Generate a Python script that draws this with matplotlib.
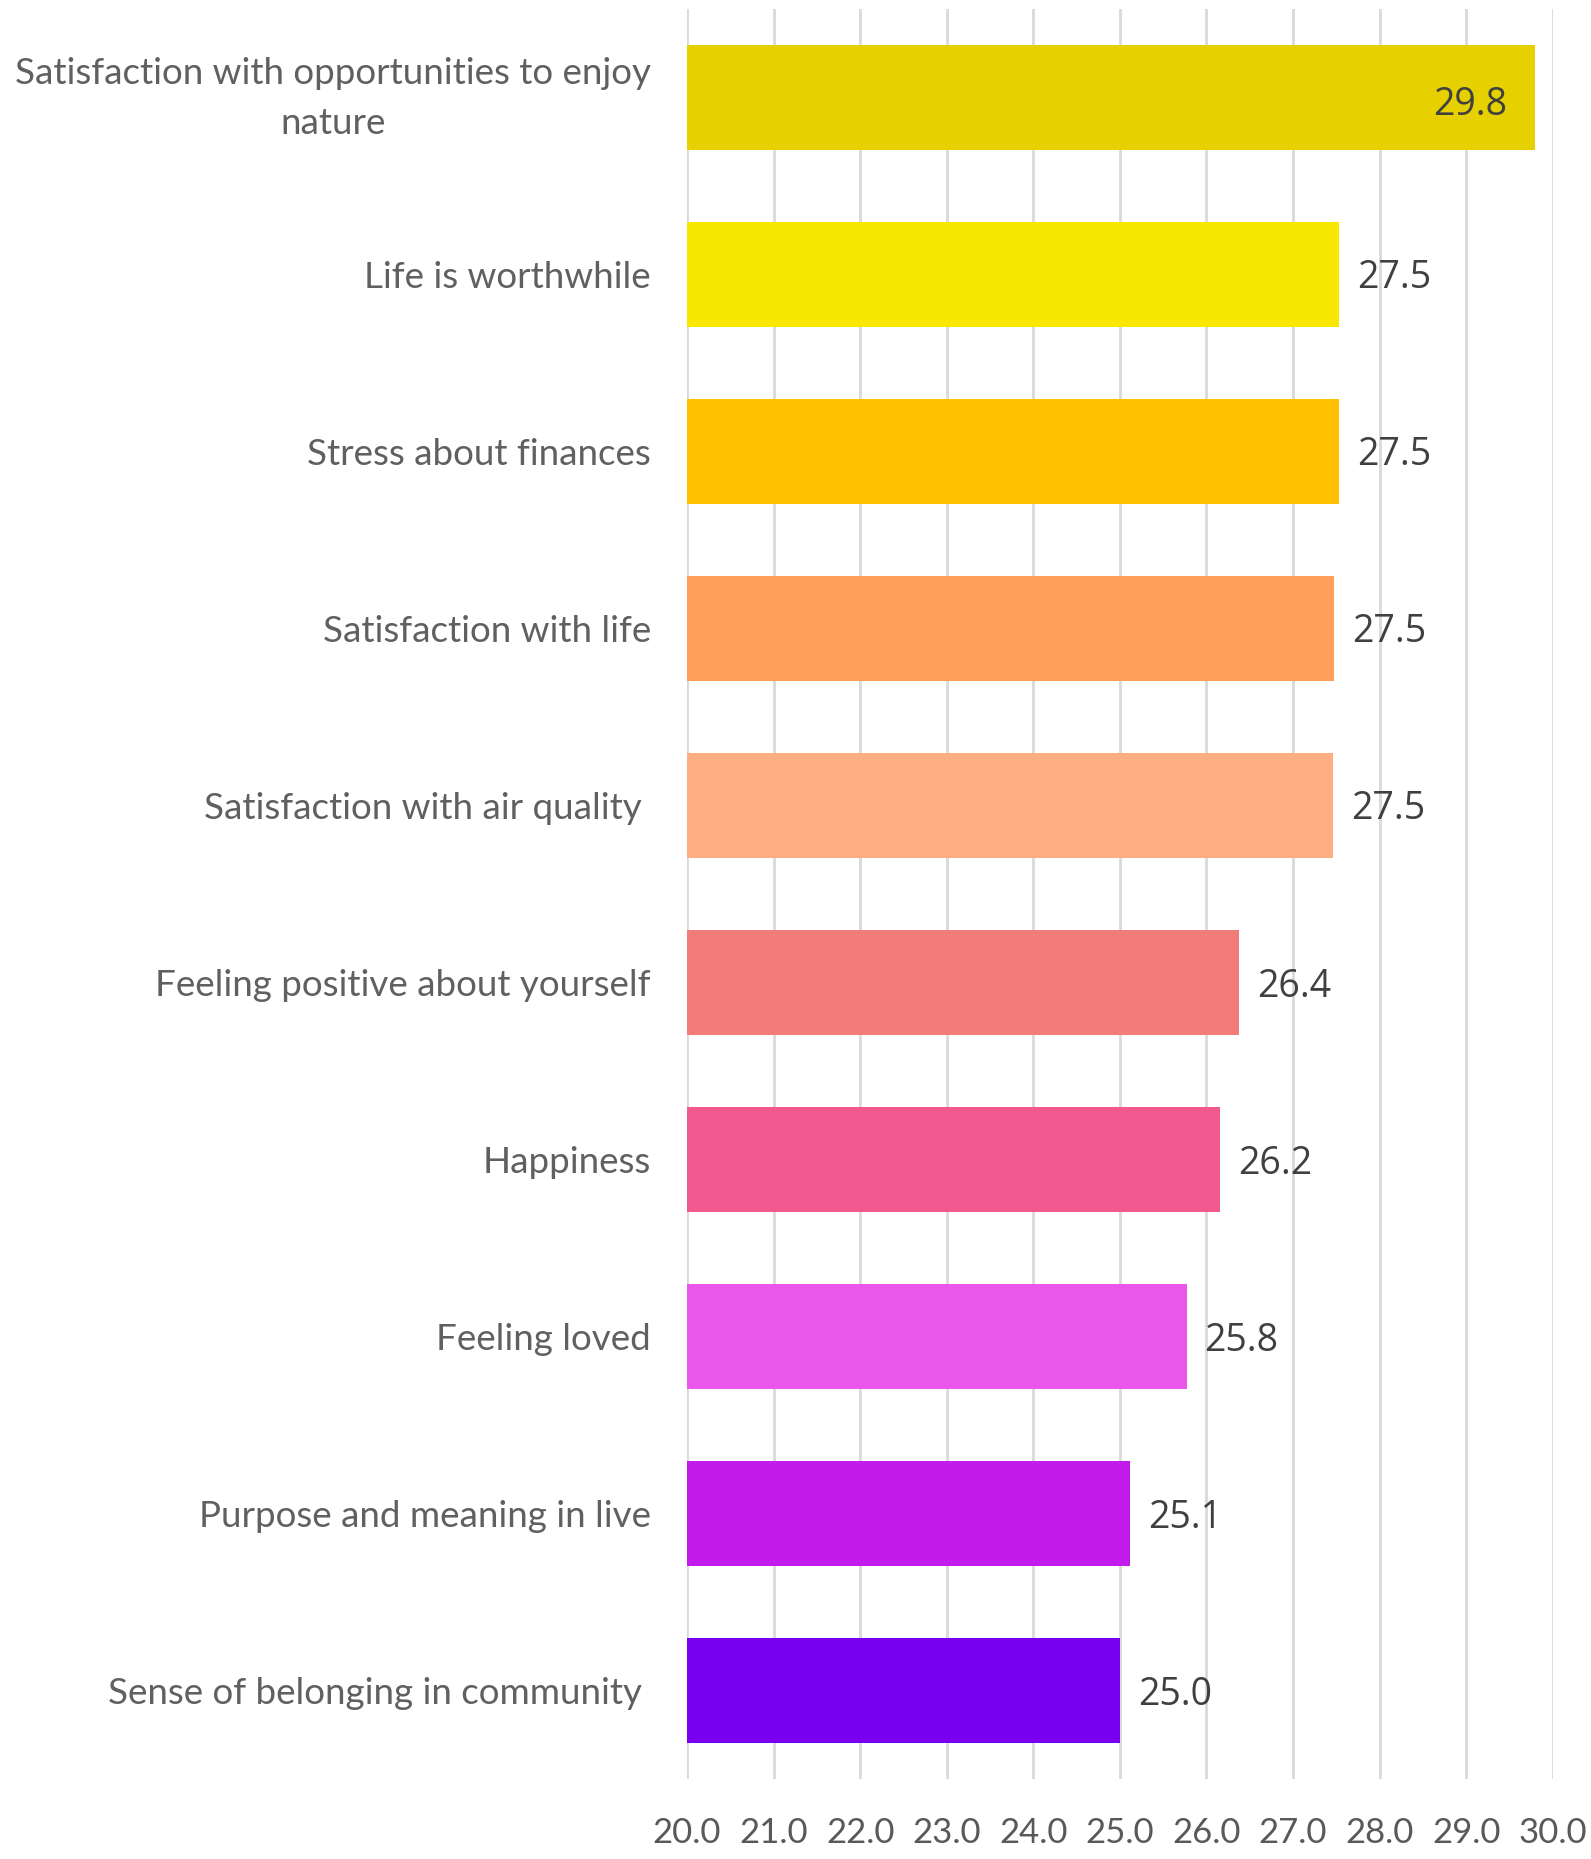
import matplotlib.pyplot as plt
from matplotlib.transforms import ScaledTranslation

labels = [
    "Satisfaction with opportunities to enjoy\nnature",
    "Life is worthwhile",
    "Stress about finances",
    "Satisfaction with life",
    "Satisfaction with air quality ",
    "Feeling positive about yourself",
    "Happiness",
    "Feeling loved",
    "Purpose and meaning in live",
    "Sense of belonging in community ",
]
values = [29.79, 27.53, 27.53, 27.47, 27.46, 26.38, 26.16, 25.77, 25.12, 25.0]
colors = ["#E6D000", "#F8E800", "#FFC000", "#FF9F5A", "#FFAE84",
          "#F17C7A", "#F25A8F", "#EA56EA", "#C21BEB", "#7800EE"]
xticks = [20, 21, 22, 23, 24, 25, 26, 27, 28, 29, 30]

fig = plt.figure(figsize=(15.91, 18.59), dpi=100)
ax = fig.add_axes([0.4318, 0.043, 0.976 - 0.4318, 0.9952 - 0.043])

y = list(range(len(labels)))
ax.barh(y, [v - 20 for v in values], left=20, height=0.59, color=colors, zorder=2)

# value labels, the longest one sits inside its bar
for i, v in enumerate(values):
    if i == 0:
        ax.annotate(f"{v:.1f}", (v, i), xytext=(-27, -8), textcoords="offset pixels",
                    ha="right", va="center", fontsize=27, color="#404040",
                    family="Open Sans", zorder=3)
    else:
        ax.annotate(f"{v:.1f}", (v, i), xytext=(18, -4), textcoords="offset pixels",
                    ha="left", va="center", fontsize=27, color="#404040",
                    family="Open Sans", zorder=3)

ax.set_xlim(20, 30)
ax.set_ylim(len(labels) - 0.5, -0.5)
ax.set_xticks(xticks)
ax.set_xticklabels([f"{t:.1f}" for t in xticks], family="Lato", fontsize=25,
                   color="#595959")
ax.set_yticks(y)
ax.set_yticklabels(labels, family="Lato", fontsize=26.5, color="#606060",
                   multialignment="center", linespacing=1.6)
ax.tick_params(axis="both", length=0)
ax.tick_params(axis="y", pad=26)
ax.tick_params(axis="x", pad=27)
ax.grid(axis="x", color="#D9D9D9", linewidth=2, zorder=0)
for s in ax.spines.values():
    s.set_visible(False)

# two-line label sits a bit high in the original
first = ax.get_yticklabels()[0]
first.set_transform(first.get_transform() + ScaledTranslation(0, 0.1, fig.dpi_scale_trans))

fig.savefig("out.png", dpi=100)
